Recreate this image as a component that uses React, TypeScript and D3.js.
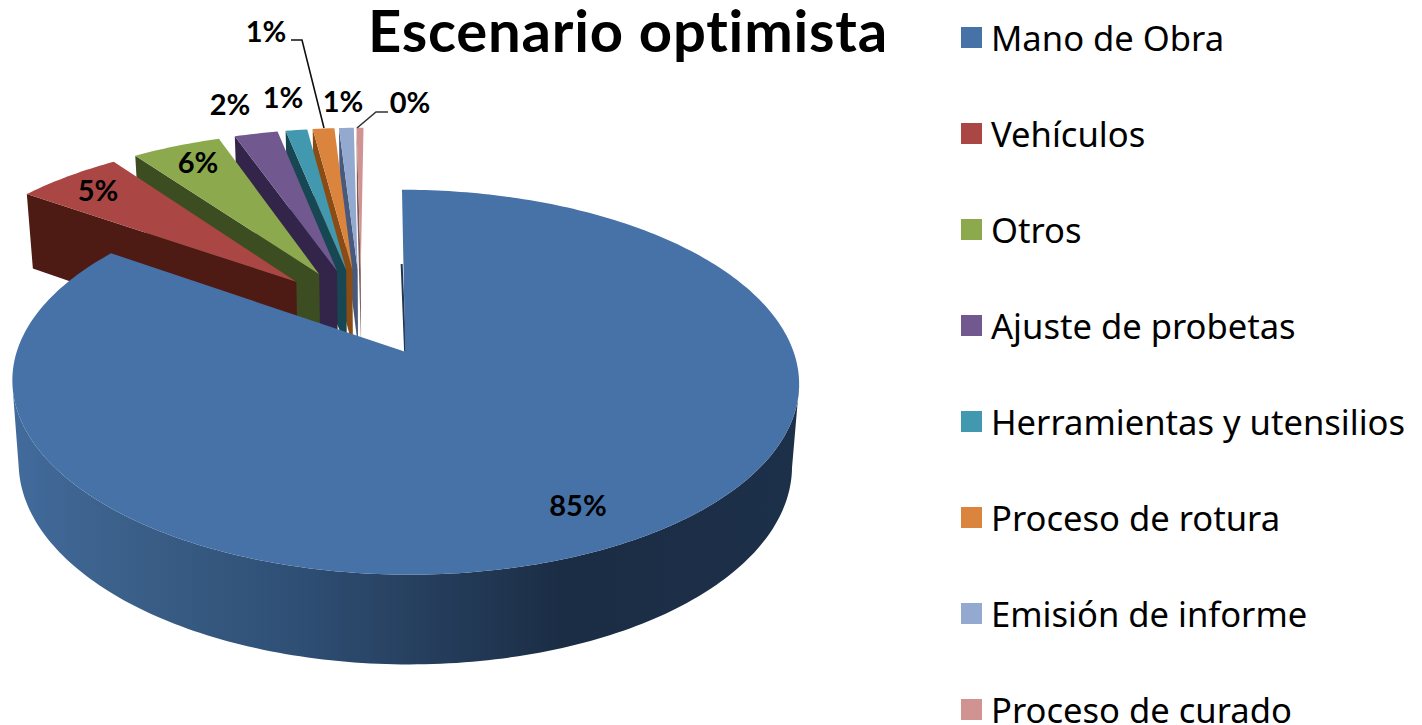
import React from "react";
import * as d3 from "d3";

const categories = ["Mano de Obra", "Vehículos", "Otros", "Ajuste de probetas", "Herramientas y utensilios", "Proceso de rotura", "Emisión de informe", "Proceso de curado"];
const shares = [84.7, 5.3, 4.5, 2.2, 1.1, 1.1, 0.75, 0.35];
const printedLabels = ["85%", "5%", "6%", "2%", "1%", "1%", "1%", "0%"];
const topColors = ["#4672a8", "#aa4644", "#8da94e", "#71588f", "#4198af", "#db843d", "#93a9cf", "#d19392"];
const wallColors = ["#2a4568", "#4e1a14", "#3c4d21", "#33254a", "#164753", "#8a4c14", "#47597d", "#7d5a5a"];

// camera / layout constants
const view = { vx: 382, cy: 352, a: 388.5, b: 187.7, k: 0.158, m: 0.983, H: 81, explode: 0.25, cx: -0.056, cz: 0.2228 };
const labelLayout = [[578, 516], [98, 201], [198, 173], [230, 115], [283, 108], [266, 42], [343, 112], [410, 113]];

const toWorld = (angle: number, r: number, mid: number) => [
  view.cx + view.explode * Math.sin(mid) + r * Math.sin(angle),
  view.cz + view.explode * Math.cos(mid) + r * Math.cos(angle),
];
const top = ([X, Z]: number[]): [number, number] => {
  const s = 1 / (1 + view.k * Z);
  return [view.vx + view.a * X * s, view.cy - view.b * Z * s];
};
const bottom = ([X, Z]: number[]): [number, number] => {
  const s = 1 / (1 + view.k * Z);
  return [view.vx + view.a * view.m * X * s, view.cy - view.b * Z * s + view.H * Math.pow(s, 0.6)];
};
const line = d3.line<[number, number]>().x((d) => d[0]).y((d) => d[1]);

const pieGen = d3.pie<number>().sort(null).startAngle(0).endAngle(2 * Math.PI);
const arcs = pieGen(shares);

const arcSamples = (a0: number, a1: number) => {
  const n = Math.max(2, Math.ceil(((a1 - a0) * 180) / Math.PI));
  return d3.range(n + 1).map((i) => a0 + ((a1 - a0) * i) / n);
};

const slices = arcs.map((d, i) => {
  const mid = (d.startAngle + d.endAngle) / 2;
  const samples = arcSamples(d.startAngle, d.endAngle);
  const apex = toWorld(0, 0, mid);
  const topPath = line([top(apex), ...samples.map((t) => top(toWorld(t, 1, mid)))]) + "Z";
  const startOuter = toWorld(d.startAngle, 1, mid);
  const wall = line([top(startOuter), top(apex), bottom(apex), bottom(startOuter)]) + "Z";
  // only the front-facing part of the outer wall, between the two silhouette points
  const front = samples.filter((t) => Math.cos(t) < -view.k);
  const rim = front.length
    ? line([...front.map((t) => top(toWorld(t, 1, mid))), ...front.slice().reverse().map((t) => bottom(toWorld(t, 1, mid)))]) + "Z"
    : "";
  const seam = line([bottom(startOuter), top(apex)]);
  return { i, topPath, wall, rim, seam };
});

const legendY = d3.scalePoint<string>().domain(categories).range([27, 699]);

export default function App() {
  const small = slices.slice(1).reverse();
  const main = slices[0];
  return (
    <svg width={1422} height={725} style={{ position: "absolute", left: 0, top: 0, background: "#fff" }}>
      <defs>
        <linearGradient id="rimGrad" gradientUnits="userSpaceOnUse" x1={10} y1={0} x2={800} y2={0}>
          <stop offset="0" stopColor="#426b9d" />
          <stop offset="0.14" stopColor="#3b6089" />
          <stop offset="0.36" stopColor="#2f4f75" />
          <stop offset="0.52" stopColor="#263f5e" />
          <stop offset="0.7" stopColor="#1b2d45" />
          <stop offset="1" stopColor="#1d3049" />
        </linearGradient>
      </defs>
      {small.map((s) => (
        <g key={s.i}>
          <path d={s.wall} fill={wallColors[s.i]} />
          <path d={s.topPath} fill={topColors[s.i]} />
        </g>
      ))}
      <path d={main.seam ?? ""} stroke="#1f3550" strokeWidth={2} fill="none" />
      <path d={main.rim} fill="url(#rimGrad)" />
      <path d={main.topPath} fill={topColors[0]} />

      <path d="M291,40H302L324,128" fill="none" stroke="#111" strokeWidth={1.6} />
      <path d="M388,112H376L357,128" fill="none" stroke="#333" strokeWidth={1.6} />

      {printedLabels.map((t, i) => (
        <text key={i} x={labelLayout[i][0]} y={labelLayout[i][1]} textAnchor="middle" fontFamily="Lato" fontWeight={700} fontSize={29} fill="#000">
          {t}
        </text>
      ))}

      <text x={628} y={52} textAnchor="middle" fontFamily="Lato" fontWeight={700} fontSize={58} letterSpacing={0.8} fill="#000">
        Escenario optimista
      </text>

      {categories.map((c, i) => (
        <g key={c}>
          <rect x={961} y={legendY(c)} width={21} height={21} fill={topColors[i]} />
          <text x={991} y={(legendY(c) ?? 0) + 24} fontFamily="Noto Sans" fontSize={34.6} fill="#000">
            {c}
          </text>
        </g>
      ))}
    </svg>
  );
}
